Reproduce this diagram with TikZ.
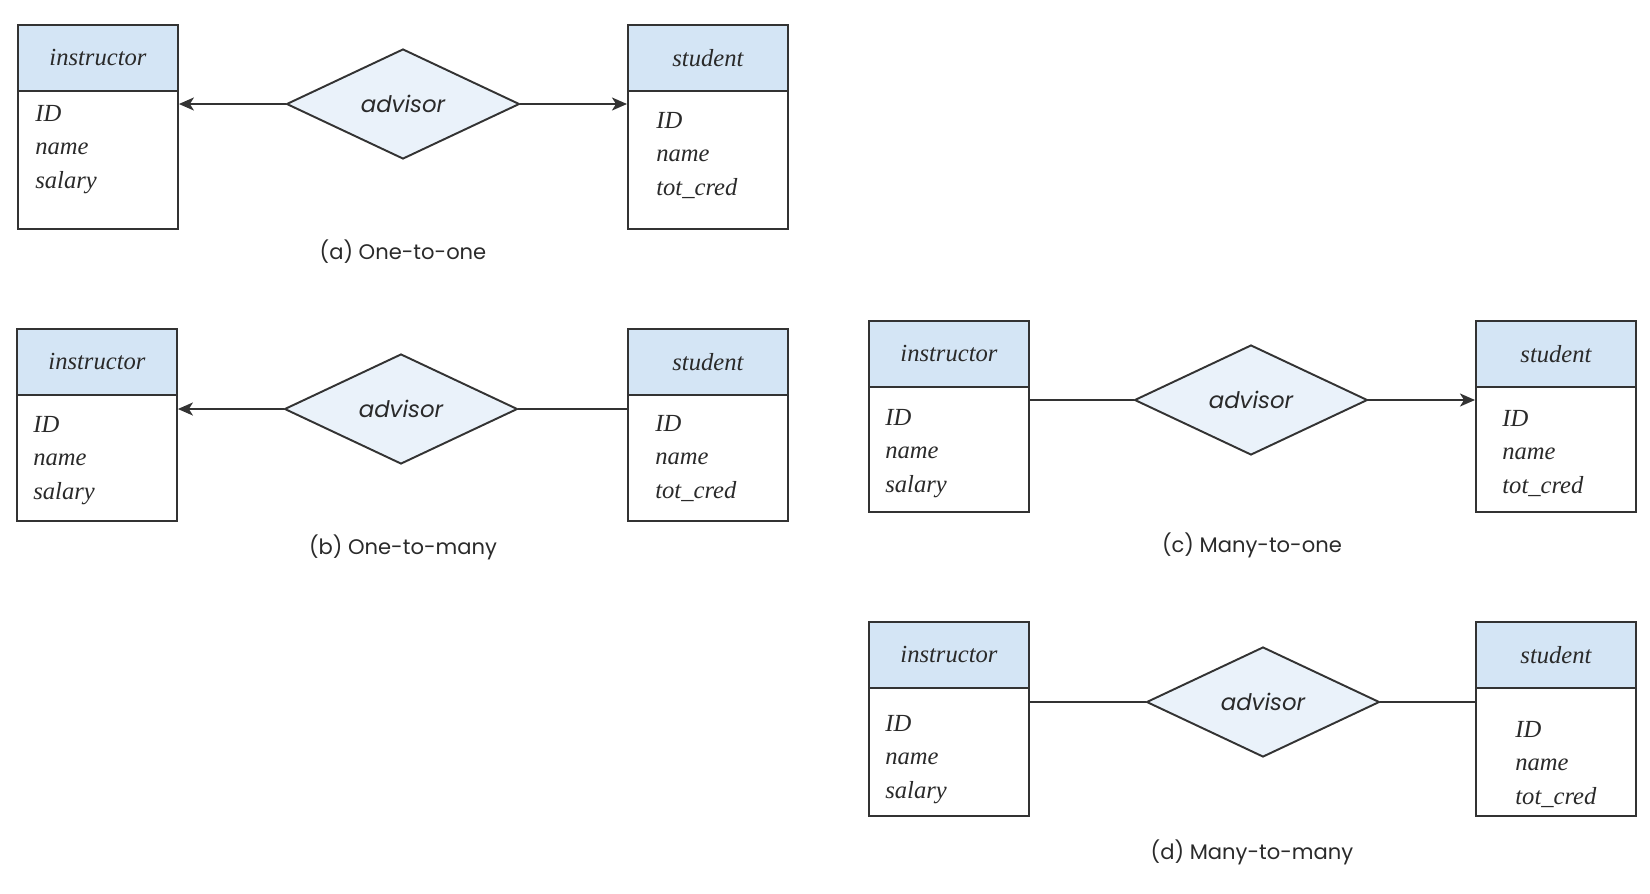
\documentclass[tikz,border=0pt]{standalone}
\usepackage{fontspec}
\setmainfont{Liberation Serif}
\newfontfamily\capsans{Poppins}
\usepackage{xcolor}
\usepackage{tikz}
\usetikzlibrary{positioning,arrows.meta,shapes.geometric}

\definecolor{linec}{HTML}{333333}
\definecolor{textc}{HTML}{2A2A2A}
\definecolor{headblue}{HTML}{D4E5F5}
\definecolor{relblue}{HTML}{EAF2FA}

\tikzset{
  enthead/.style={draw=linec, line width=1.1pt, fill=headblue, minimum width=3.2cm, minimum height=1.32cm,
    anchor=north west, inner sep=0pt, text=textc, font=\fontsize{14}{17}\selectfont\itshape},
  entbody/.style={draw=linec, line width=1.1pt, minimum width=3.2cm, anchor=north west, inner sep=0pt},
  attrs/.style={anchor=north west, align=left, inner sep=0pt, text=textc, font=\fontsize{14}{19}\selectfont\itshape},
  rel/.style={diamond, draw=linec, line width=1.1pt, fill=relblue, minimum width=4.66cm, minimum height=2.2cm,
    inner sep=0pt, text=textc, font=\capsans\fontsize{13}{16}\selectfont\itshape},
  conn/.style={draw=linec, line width=1.1pt},
  cardone/.style={conn, -{Stealth[length=3mm, width=2.6mm, inset=0.8mm]}},
  caption/.style={text=textc, font=\capsans\fontsize{12}{15}\selectfont}
}

\begin{document}
\begin{tikzpicture}[x=0.02cm, y=-0.02cm]
\useasboundingbox (0,0) rectangle (1650,893);
% (a) one-to-one
\node[enthead] (instAh) at (17,24) {instructor};
\node[entbody, minimum height=2.76cm] (instAb) at (17,90) {};
\node[attrs] (instAa) at (35,105) {ID\\name\\salary};
\node[enthead] (studAh) at (627,24) {student};
\node[entbody, minimum height=2.76cm] (studAb) at (627,90) {};
\node[attrs] (studAa) at (656,112) {ID\\name\\tot\_cred};
\node[rel] (advA) at (403,104) {advisor};
\draw[cardone] (advA.west) -- (advA.west -| instAb.east);
\draw[cardone] (advA.east) -- (advA.east -| studAb.west);
\node[caption] (capA) at (403,252) {(a) One-to-one};
% (b) one-to-many
\node[enthead] (instBh) at (16,328) {instructor};
\node[entbody, minimum height=2.52cm] (instBb) at (16,394) {};
\node[attrs] (instBa) at (33,416) {ID\\name\\salary};
\node[enthead] (studBh) at (627,328) {student};
\node[entbody, minimum height=2.52cm] (studBb) at (627,394) {};
\node[attrs] (studBa) at (655,415) {ID\\name\\tot\_cred};
\node[rel] (advB) at (401,409) {advisor};
\draw[cardone] (advB.west) -- (advB.west -| instBb.east);
\draw[conn] (advB.east) -- (advB.east -| studBb.west);
\node[caption] (capB) at (403,547) {(b) One-to-many};
% (c) many-to-one
\node[enthead] (instCh) at (868,320) {instructor};
\node[entbody, minimum height=2.5cm] (instCb) at (868,386) {};
\node[attrs] (instCa) at (885,409) {ID\\name\\salary};
\node[enthead] (studCh) at (1475,320) {student};
\node[entbody, minimum height=2.5cm] (studCb) at (1475,386) {};
\node[attrs] (studCa) at (1502,410) {ID\\name\\tot\_cred};
\node[rel] (advC) at (1251,400) {advisor};
\draw[conn] (advC.west) -- (advC.west -| instCb.east);
\draw[cardone] (advC.east) -- (advC.east -| studCb.west);
\node[caption] (capC) at (1252,545) {(c) Many-to-one};
% (d) many-to-many
\node[enthead] (instDh) at (868,621) {instructor};
\node[entbody, minimum height=2.56cm] (instDb) at (868,687) {};
\node[attrs] (instDa) at (885,715) {ID\\name\\salary};
\node[enthead] (studDh) at (1475,621) {student};
\node[entbody, minimum height=2.56cm] (studDb) at (1475,687) {};
\node[attrs] (studDa) at (1515,721) {ID\\name\\tot\_cred};
\node[rel] (advD) at (1263,702) {advisor};
\draw[conn] (advD.west) -- (advD.west -| instDb.east);
\draw[conn] (advD.east) -- (advD.east -| studDb.west);
\node[caption] (capD) at (1252,852) {(d) Many-to-many};
\end{tikzpicture}
\end{document}
